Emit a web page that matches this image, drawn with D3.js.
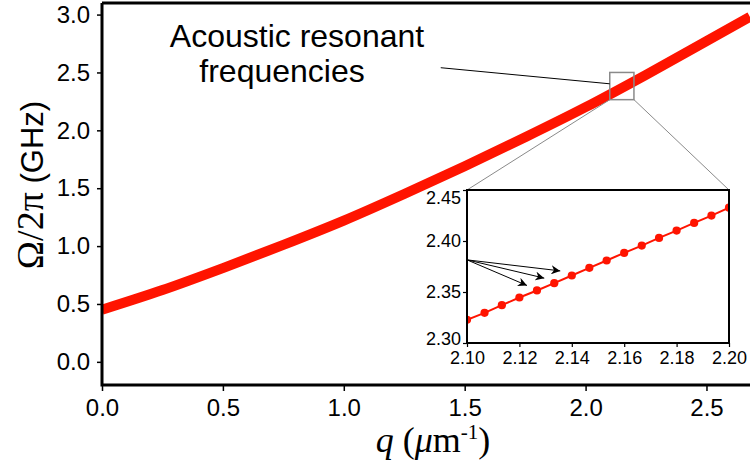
<!DOCTYPE html>
<html>
<head>
<meta charset="utf-8">
<script src="https://d3js.org/d3.v7.min.js"></script>
<style>
  body { margin: 0; background: #fff; }
  .tick text { font-family: Arial, "Liberation Sans", sans-serif; fill: #000; }
</style>
</head>
<body>
<div id="chart"></div>
<script>
// main curve
var q_main    = [0, 0.25, 0.5, 0.75, 1.0, 1.25, 1.5, 1.75, 2.0, 2.25, 2.5, 2.68];
var freq_main = [0.45, 0.62, 0.81, 1.01, 1.22, 1.45, 1.69, 1.94, 2.20, 2.48, 2.77, 2.98];
var main_x_ticks = [0, 0.5, 1.0, 1.5, 2.0, 2.5];
var main_y_ticks = [0, 0.5, 1.0, 1.5, 2.0, 2.5, 3.0];

// inset: discrete resonances
var q_inset    = [2.1, 2.1067, 2.1133, 2.12, 2.1267, 2.1333, 2.14, 2.1467,
                  2.1533, 2.16, 2.1667, 2.1733, 2.18, 2.1867, 2.1933, 2.2];
var freq_inset = [2.3228, 2.3296, 2.3371, 2.3446, 2.3515, 2.3587, 2.3662, 2.3737,
                  2.3809, 2.3884, 2.3955, 2.4030, 2.4102, 2.4177, 2.4249, 2.4327];
var inset_x_ticks = [2.10, 2.12, 2.14, 2.16, 2.18, 2.20];
var inset_y_ticks = [2.30, 2.35, 2.40, 2.45];

// zoom box on the main curve
var zoom_q = [2.1, 2.2];
var zoom_f = [2.265, 2.50];

// annotation
var label_lines = ["Acoustic resonant", "frequencies"];
var leader_q = [1.401, 2.1];
var leader_f = [2.541, 2.402];
var arrow_start = [2.10, 2.3815];
var arrow_tip_q = [2.1356, 2.1295, 2.1229];
var arrow_tip_f = [2.3707, 2.3636, 2.3564];

var width  = 750;
var height = 469;

var svg = d3.select('#chart')
    .append('svg')
    .attr('width', width)
    .attr('height', height);

var x_scale = d3.scaleLinear().domain([0, 2.68]).range([102, 750]);
var y_scale = d3.scaleLinear().domain([-0.2, 3.1]).range([385, 3]);

svg.append('clipPath').attr('id', 'clip-main')
    .append('rect')
    .attr('x', 102).attr('y', 3)
    .attr('width', 648).attr('height', 382);

// main curve
var main_data = q_main.map(function(q, i) { return {q: q, f: freq_main[i]}; });
var main_line = d3.line()
    .x(function(d) { return x_scale(d.q); })
    .y(function(d) { return y_scale(d.f); })
    .curve(d3.curveMonotoneX);

svg.append('path')
    .datum(main_data)
    .attr('clip-path', 'url(#clip-main)')
    .attr('fill', 'none')
    .attr('stroke', '#ff1400')
    .attr('stroke-width', 10)
    .attr('d', main_line);

// axes
var x_axis = d3.axisBottom(x_scale)
    .tickValues(main_x_ticks)
    .tickSize(6)
    .tickPadding(8)
    .tickFormat(d3.format('.1f'));

var y_axis = d3.axisLeft(y_scale)
    .tickValues(main_y_ticks)
    .tickSize(5)
    .tickPadding(7)
    .tickFormat(d3.format('.1f'));

var gx = svg.append('g')
    .attr('transform', 'translate(0,385)')
    .call(x_axis);
var gy = svg.append('g')
    .attr('transform', 'translate(102,0)')
    .call(y_axis);

[gx, gy].forEach(function(g) {
    g.select('.domain').remove();
    g.selectAll('.tick line').attr('stroke', '#000').attr('stroke-width', 1.5);
    g.selectAll('.tick text').style('font-size', '24px');
});

// frame
svg.append('path')
    .attr('d', 'M102,3H750M102,3V385H750')
    .attr('fill', 'none')
    .attr('stroke', '#000')
    .attr('stroke-width', 3);

// axis titles
var ylab = svg.append('text')
    .attr('transform', 'translate(43,185) rotate(-90)')
    .attr('text-anchor', 'middle');
ylab.append('tspan')
    .style('font-family', '"Liberation Serif", "Times New Roman", serif')
    .style('font-size', '38px')
    .text('Ω/2π');
ylab.append('tspan')
    .style('font-family', 'Arial, "Liberation Sans", sans-serif')
    .style('font-size', '31px')
    .text(' (GHz)');

var xlab = svg.append('text')
    .attr('x', 433).attr('y', 452)
    .attr('text-anchor', 'middle')
    .style('font-family', '"Liberation Serif", "Times New Roman", serif')
    .style('font-size', '36px');
xlab.append('tspan').style('font-style', 'italic').text('q');
xlab.append('tspan').text(' (');
xlab.append('tspan').style('font-style', 'italic').text('μ');
xlab.append('tspan').text('m');
xlab.append('tspan').attr('dy', -13).style('font-size', '21px').text('-1');
xlab.append('tspan').attr('dy', 13).text(')');

// inset geometry
var ix = d3.scaleLinear().domain([2.10, 2.20]).range([467, 729]);
var iy = d3.scaleLinear().domain([2.30, 2.45]).range([343, 190]);

// zoom box and connectors
svg.append('rect')
    .attr('x', x_scale(zoom_q[0]))
    .attr('y', y_scale(zoom_f[1]))
    .attr('width', x_scale(zoom_q[1]) - x_scale(zoom_q[0]))
    .attr('height', y_scale(zoom_f[0]) - y_scale(zoom_f[1]))
    .attr('fill', 'none')
    .attr('stroke', '#8a8a8a')
    .attr('stroke-width', 1.5);

svg.append('line')
    .attr('x1', x_scale(zoom_q[0])).attr('y1', y_scale(zoom_f[0]))
    .attr('x2', ix(2.10)).attr('y2', iy(2.45))
    .attr('stroke', '#8a8a8a').attr('stroke-width', 1);
svg.append('line')
    .attr('x1', x_scale(zoom_q[1])).attr('y1', y_scale(zoom_f[0]))
    .attr('x2', ix(2.20)).attr('y2', iy(2.45))
    .attr('stroke', '#8a8a8a').attr('stroke-width', 1);

// leader line and label
svg.append('line')
    .attr('x1', x_scale(leader_q[0])).attr('y1', y_scale(leader_f[0]))
    .attr('x2', x_scale(leader_q[1])).attr('y2', y_scale(leader_f[1]))
    .attr('stroke', '#000').attr('stroke-width', 1);

svg.append('text')
    .attr('x', 297).attr('y', 47)
    .attr('text-anchor', 'middle')
    .style('font-family', 'Arial, "Liberation Sans", sans-serif')
    .style('font-size', '32px')
    .text(label_lines[0]);
svg.append('text')
    .attr('x', 282).attr('y', 82)
    .attr('text-anchor', 'middle')
    .style('font-family', 'Arial, "Liberation Sans", sans-serif')
    .style('font-size', '32px')
    .text(label_lines[1]);

// inset
svg.append('rect')
    .attr('x', 467).attr('y', 190)
    .attr('width', 262).attr('height', 153)
    .attr('fill', '#fff');

svg.append('clipPath').attr('id', 'clip-inset')
    .append('rect')
    .attr('x', 467).attr('y', 190)
    .attr('width', 262).attr('height', 153);

var inset_data = q_inset.map(function(q, i) { return {q: q, f: freq_inset[i]}; });
var inset = svg.append('g').attr('clip-path', 'url(#clip-inset)');

inset.append('path')
    .datum(inset_data)
    .attr('fill', 'none')
    .attr('stroke', '#ff1400')
    .attr('stroke-width', 2)
    .attr('d', d3.line()
        .x(function(d) { return ix(d.q); })
        .y(function(d) { return iy(d.f); }));

inset.selectAll('circle')
    .data(inset_data)
    .enter()
    .append('circle')
    .attr('cx', function(d) { return ix(d.q); })
    .attr('cy', function(d) { return iy(d.f); })
    .attr('r', 4.1)
    .attr('fill', '#ff1400');

// arrows
svg.append('defs').append('marker')
    .attr('id', 'arrow')
    .attr('viewBox', '0 0 10 10')
    .attr('refX', 10).attr('refY', 5)
    .attr('markerWidth', 9).attr('markerHeight', 9)
    .attr('markerUnits', 'userSpaceOnUse')
    .attr('orient', 'auto')
    .append('path')
    .attr('d', 'M0,0L10,5L0,10L3,5Z')
    .attr('fill', '#000');

arrow_tip_q.forEach(function(q, i) {
    svg.append('line')
        .attr('x1', ix(arrow_start[0])).attr('y1', iy(arrow_start[1]))
        .attr('x2', ix(q)).attr('y2', iy(arrow_tip_f[i]))
        .attr('stroke', '#000').attr('stroke-width', 1)
        .attr('marker-end', 'url(#arrow)');
});

var ix_axis = d3.axisBottom(ix)
    .tickValues(inset_x_ticks)
    .tickSize(4)
    .tickPadding(4)
    .tickFormat(d3.format('.2f'));
var iy_axis = d3.axisLeft(iy)
    .tickValues(inset_y_ticks)
    .tickSize(4)
    .tickPadding(2)
    .tickFormat(d3.format('.2f'));

var gix = svg.append('g').attr('transform', 'translate(0,343)').call(ix_axis);
var giy = svg.append('g').attr('transform', 'translate(467,0)').call(iy_axis);

[gix, giy].forEach(function(g) {
    g.select('.domain').remove();
    g.selectAll('.tick line').attr('stroke', '#000').attr('stroke-width', 1.2);
    g.selectAll('.tick text').style('font-size', '18px');
});
// end labels nudged inward, as in the reference
giy.selectAll('.tick text')
    .filter(function(d) { return d === 2.45; })
    .attr('dy', '0.75em');
giy.selectAll('.tick text')
    .filter(function(d) { return d === 2.30; })
    .attr('dy', '0.1em');

svg.append('rect')
    .attr('x', 467).attr('y', 190)
    .attr('width', 262).attr('height', 153)
    .attr('fill', 'none')
    .attr('stroke', '#000')
    .attr('stroke-width', 2);
</script>
</body>
</html>
